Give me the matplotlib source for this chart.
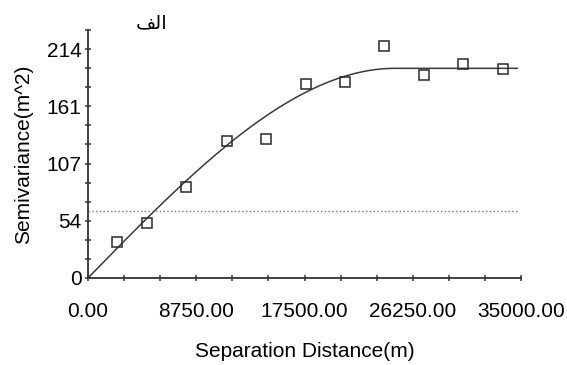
import numpy as np
import matplotlib
matplotlib.use('Agg')
import matplotlib.pyplot as plt

# experimental semivariogram points
lag = [2350, 4770, 7920, 11230, 14390, 17620, 20770, 23920, 27160, 30310, 33540]
gamma = [34, 51, 85, 128, 130, 181, 183, 217, 190, 200, 195]

# fitted spherical model
nugget = 0.0
sill = 196.0
model_range = 24800.0
model_end = 34700.0
variance = 62.7

x_ticks = [0, 8750, 17500, 26250, 35000]
x_labels = ['0.00', '8750.00', '17500.00', '26250.00', '35000.00']
y_ticks = [0, 53.5, 107, 160.5, 214]
y_labels = ['0', '54', '107', '161', '214']

plt.rcParams['font.family'] = ['Liberation Sans', 'DejaVu Sans']

fig = plt.figure(figsize=(5.67, 3.65), dpi=100)
ax = fig.add_axes([0.1552, 0.2384, 0.9189 - 0.1552, 0.9178 - 0.2384])

h = np.linspace(0, model_end, 400)
hr = np.minimum(h / model_range, 1.0)
model = nugget + (sill - nugget) * (1.5 * hr - 0.5 * hr ** 3)
ax.plot(h, model, color='#3a3a3a', lw=1.1)
ax.plot([0, model_end], [variance, variance], color='#777777', lw=1.0, ls=(0, (1, 1.7)))
ax.plot(lag, gamma, 's', mfc='none', mec='#2a2a2a', ms=6.5, mew=1.1)

ax.set_xlim(0, 35000)
ax.set_ylim(0, 214 * 13 / 12)
for s in ['top', 'right']:
    ax.spines[s].set_visible(False)
for s in ['left', 'bottom']:
    ax.spines[s].set_color('#333333')
    ax.spines[s].set_linewidth(1.3)

ax.set_xticks(x_ticks)
ax.set_xticklabels(x_labels)
ax.set_xticks(np.arange(13) * 35000 / 12, minor=True)
ax.set_yticks(y_ticks)
ax.set_yticklabels(y_labels)
ax.set_yticks(np.arange(14) * 214 / 12, minor=True)
ax.tick_params(which='both', direction='inout', length=5, width=1.1, color='#333333')
ax.tick_params(axis='x', which='major', pad=15, labelsize=15)
ax.tick_params(axis='y', which='major', pad=2, labelsize=15)

ax.set_xlabel('Separation Distance(m)', fontsize=15, labelpad=15)
ax.set_ylabel('Semivariance(m^2)', fontsize=15, labelpad=10)

fig.text(152 / 567, 1 - 23 / 365, '\uFED2\uFEDF\uFE8D', family='DejaVu Sans',
         fontsize=14, ha='center', va='center')

fig.savefig('out.png', dpi=100)
